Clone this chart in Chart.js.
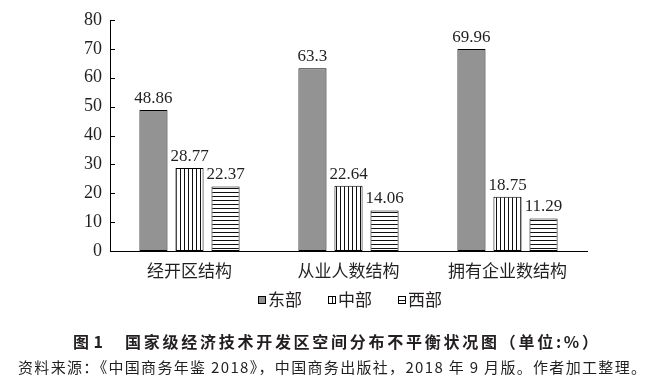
<!DOCTYPE html>
<html><head><meta charset="utf-8">
<script src="https://cdn.jsdelivr.net/npm/chart.js@4/dist/chart.umd.min.js"></script>
<style>
html,body{margin:0;padding:0;background:#fff;}
#wrap{position:relative;width:659px;height:381px;overflow:hidden;}
canvas{position:absolute;left:0;top:0;}
.t{position:absolute;white-space:nowrap;color:#231f20;font-family:"Noto Sans CJK SC",sans-serif;line-height:1;}
.b{font-size:16px;font-weight:bold;top:333px;}
#src{top:359px;font-size:15px;}
</style></head>
<body><div id="wrap"><canvas id="c" width="659" height="381"></canvas>
<div class="t b" id="fig" data-l="73" data-r="103">图 1</div>
<div class="t b" id="title" data-l="125" data-r="598">国家级经济技术开发区空间分布不平衡状况图（单位:%）</div>
<div class="t" id="src" data-l="18" data-r="646">资料来源：《中国商务年鉴 2018》，中国商务出版社，2018 年 9 月版。作者加工整理。</div>
</div>
<script>
const categories = ["经开区结构", "从业人数结构", "拥有企业数结构"];
const seriesNames = ["东部", "中部", "西部"];
const east = [48.86, 63.3, 69.96];
const central = [28.77, 22.64, 18.75];
const west = [22.37, 14.06, 11.29];
const yTicks = [0, 10, 20, 30, 40, 50, 60, 70, 80];

// fit caption lines to their measured extents
document.querySelectorAll('.t').forEach(el => {
  const l = +el.dataset.l, r = +el.dataset.r;
  el.style.left = l + 'px';
  const n = [...el.textContent].length;
  const w = el.getBoundingClientRect().width;
  const ls = (r - l - w) / Math.max(1, n - 1);
  el.style.letterSpacing = ls + 'px';
});

function makePattern(vertical){
  const p = document.createElement('canvas');
  p.width = 4; p.height = 4;
  const g = p.getContext('2d');
  g.fillStyle = '#fff'; g.fillRect(0,0,4,4);
  g.fillStyle = '#111';
  if (vertical) g.fillRect(0,0,1,4); else g.fillRect(0,0,4,1);
  return document.getElementById('c').getContext('2d').createPattern(p,'repeat');
}
const fills = ['#939393', makePattern(true), makePattern(false)];
const values = [east, central, west];

const serif = '"Liberation Serif", "DejaVu Serif", serif';
const cjk = '"Noto Sans CJK SC", sans-serif';

const extras = {
  id: 'extras',
  afterDatasetsDraw(chart){
    const ctx = chart.ctx;
    ctx.save();
    ctx.font = '17px ' + serif;
    ctx.fillStyle = '#231f20';
    ctx.textAlign = 'center';
    ctx.textBaseline = 'bottom';
    chart.data.datasets.forEach((ds, i) => {
      chart.getDatasetMeta(i).data.forEach((bar, j) => {
        ctx.fillText(String(ds.data[j]), bar.x, bar.y - 3);
      });
    });
    const y = chart.scales.y;
    ctx.strokeStyle = '#000'; ctx.lineWidth = 1;
    yTicks.forEach(v => {
      const py = Math.round(y.getPixelForValue(v)) + 0.5;
      ctx.beginPath(); ctx.moveTo(chart.chartArea.left, py); ctx.lineTo(chart.chartArea.left + 5, py); ctx.stroke();
    });
    const startX = 258, gapX = 70, ly = 300;
    chart.data.datasets.forEach((ds, i) => {
      const x = startX + gapX * i;
      ctx.fillStyle = ds.backgroundColor;
      ctx.fillRect(x, ly - 4, 8, 8);
      ctx.strokeStyle = '#000';
      ctx.strokeRect(x + 0.5, ly - 3.5, 7, 7);
      ctx.fillStyle = '#231f20';
      ctx.font = '17px ' + cjk;
      ctx.textAlign = 'left';
      ctx.textBaseline = 'middle';
      ctx.fillText(ds.label, x + 10, ly);
    });
    ctx.restore();
  }
};

new Chart(document.getElementById('c'), {
  type: 'bar',
  data: {
    labels: categories,
    datasets: seriesNames.map((n, i) => ({
      label: n, data: values[i], backgroundColor: fills[i],
      borderColor: '#000', borderWidth: 1, borderSkipped: false,
      categoryPercentage: 0.68, barPercentage: 0.78
    }))
  },
  options: {
    responsive: false, animation: false,
    layout: { padding: { top: 20, right: 72, bottom: 100, left: 0 } },
    plugins: { legend: { display: false }, tooltip: { enabled: false } },
    scales: {
      x: {
        grid: { display: false, drawTicks: false },
        border: { display: true, color: '#000', width: 1 },
        ticks: { color: '#231f20', font: { family: cjk, size: 17 }, padding: 9 },
        afterFit(s){ s.height = 30; }
      },
      y: {
        min: 0, max: 80,
        afterBuildTicks(s){ s.ticks = yTicks.map(v => ({ value: v })); },
        grid: { display: false, drawTicks: false },
        border: { display: true, color: '#000', width: 1 },
        ticks: { color: '#231f20', font: { family: serif, size: 18 }, padding: 8 },
        afterFit(s){ s.width = 110; }
      }
    }
  },
  plugins: [extras]
});
</script></body></html>
